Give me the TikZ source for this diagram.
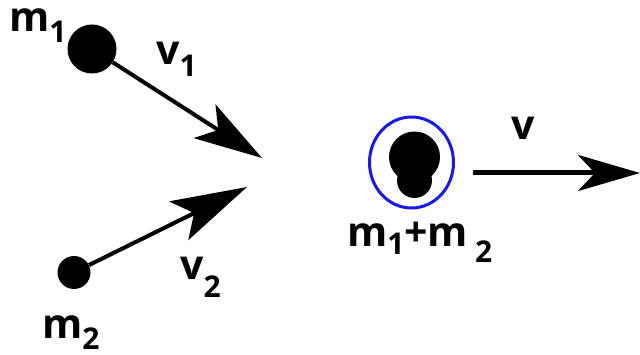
\documentclass[tikz,border=0pt]{standalone}
\usepackage{fontspec}
\setmainfont{Open Sans}
\usetikzlibrary{arrows.meta,shapes.geometric}
\definecolor{penblue}{RGB}{25,25,225}
\tikzset{
  ball/.style={circle,fill=black,inner sep=0pt},
  lbl/.style={anchor=base west,inner sep=0pt,font=\fontsize{41}{41}\selectfont\bfseries},
  vec/.style={line width=4pt},
}
\newcommand\subsc[2]{\raisebox{-#1pt}{\fontsize{30}{30}\selectfont #2}}
\begin{document}
\begin{tikzpicture}[x=1pt,y=-1pt]
\useasboundingbox (0,0) rectangle (640,355);
% masses before
\node[ball,minimum size=49pt] (m1) at (92,49) {};
\node[ball,minimum size=33pt] (m2) at (74,272.5) {};
\coordinate (t1) at (262,158);
\coordinate (t2) at (247,187);
\draw[vec,-{Stealth[length=68pt,width=40pt,inset=16pt]}] (m1) -- (t1);
\draw[vec,-{Stealth[length=76pt,width=43pt,inset=17pt]}] (m2) -- (t2);
% combined mass
\node[ball,minimum size=51pt] (big) at (414.5,157) {};
\node[ball,minimum size=35pt] (small) at (414.5,180.5) {};
\node[draw=penblue,line width=3pt,ellipse,minimum width=84pt,minimum height=91pt,inner sep=0pt] (e) at (411.5,162.5) {};
\coordinate (s3) at (473,173);
\coordinate (t3) at (640,173);
\draw[line width=5pt,-{Stealth[length=62pt,width=36pt,inset=17pt]}] (s3) -- (t3);
% labels
\node[lbl] (lm1) at (9,32) {m\subsc{11}{1}};
\node[lbl] (lv1) at (156,65) {v\subsc{12}{1}};
\node[lbl] (lm2) at (42,338) {m\subsc{11}{2}};
\node[lbl] (lv2) at (180,280) {v\subsc{18}{2}};
\node[lbl] (lm12) at (347,247) {m\subsc{8}{1}+m\,\subsc{16}{2}};
\node[lbl] (lv) at (511,140) {v};
\end{tikzpicture}
\end{document}
